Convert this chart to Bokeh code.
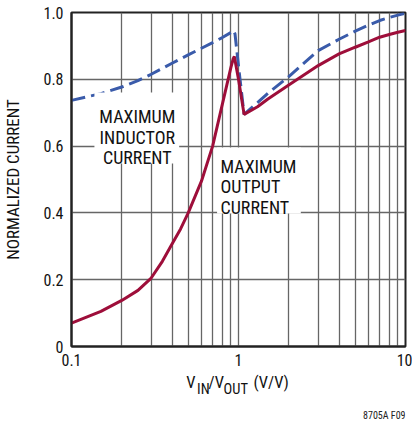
from bokeh.plotting import figure
from bokeh.layouts import column
from bokeh.models import FixedTicker, Label, Range1d, BoxAnnotation
from bokeh.core.properties import value
from bokeh.embed import file_html
from bokeh.resources import INLINE

# ---- data ----
inductor_x = [0.1, 0.15, 0.2, 0.25, 0.3, 0.4, 0.5, 0.6, 0.7, 0.8, 0.9, 0.915, 0.935, 0.953,
              1.0, 1.08, 1.3, 1.5, 2, 3, 4, 5, 6, 7, 8, 9, 10]
inductor_y = [0.737, 0.757, 0.777, 0.796, 0.815, 0.848, 0.873, 0.893, 0.910, 0.925, 0.940,
              0.946, 0.945, 0.936, 0.84, 0.695, 0.730, 0.758, 0.808, 0.886, 0.920, 0.944,
              0.962, 0.976, 0.985, 0.992, 0.998]

output_x = [0.1, 0.15, 0.2, 0.25, 0.3, 0.35, 0.4, 0.45, 0.5, 0.6, 0.7, 0.8, 0.9, 0.93, 0.944,
            0.955, 1.0, 1.08, 1.3, 1.5, 2, 3, 4, 5, 6, 7, 8, 9, 10]
output_y = [0.070, 0.105, 0.138, 0.168, 0.205, 0.255, 0.307, 0.352, 0.400, 0.495, 0.600,
            0.725, 0.835, 0.862, 0.868, 0.855, 0.80, 0.695, 0.718, 0.741, 0.783, 0.841,
            0.876, 0.896, 0.912, 0.926, 0.934, 0.941, 0.946]

x_major = [0.1, 1, 10]
x_minor = [0.2, 0.3, 0.4, 0.5, 0.6, 0.7, 0.8, 0.9, 2, 3, 4, 5, 6, 7, 8, 9]
x_labels = {0.1: "0.1", 1: "1", 10: "10"}
y_ticks = [0, 0.2, 0.4, 0.6, 0.8, 1.0]
y_labels = {0: "0", 0.2: "0.2", 0.4: "0.4", 0.6: "0.6", 0.8: "0.8", 1.0: "1.0"}

inductor_label = ["MAXIMUM", "INDUCTOR", "CURRENT"]
output_label = ["MAXIMUM", "OUTPUT", "CURRENT"]
x_title_parts = ["V", "IN", "/V", "OUT", "(V/V)"]
footnote = "8705A F09"

FONT = "Liberation Sans Narrow, Roboto Condensed, Liberation Sans, sans-serif"
GRID = "#666666"
RED = "#9E0E3A"
BLUE = "#3A5BAA"
INK = "#111111"
W = 412
H_TOTAL = 421
H_MAIN = 372      # frame 12..346 plus tick labels
H_FOOT = H_TOTAL - H_MAIN   # x-axis title and figure code below
FL, FR = 70, 405  # frame left/right in page pixels

p = figure(width=W, height=H_MAIN, x_axis_type="log",
           x_range=Range1d(0.1, 10), y_range=Range1d(0, 1),
           output_backend="svg", toolbar_location=None,
           min_border_left=FL, min_border_right=W - FR, min_border_top=12,
           min_border_bottom=H_MAIN - 346)
p.background_fill_color = "white"
p.border_fill_color = "white"
p.outline_line_color = "#222222"
p.outline_line_width = 2

p.xaxis.ticker = FixedTicker(ticks=x_major, minor_ticks=x_minor)
p.yaxis.ticker = FixedTicker(ticks=y_ticks)
p.xaxis.major_label_overrides = x_labels
p.yaxis.major_label_overrides = y_labels
for ax in (p.xaxis, p.yaxis):
    ax.axis_line_color = "#222222"
    ax.axis_line_width = 2
    ax.major_tick_line_color = None
    ax.minor_tick_line_color = None
    ax.major_tick_out = 0
    ax.major_tick_in = 0
    ax.minor_tick_out = 0
    ax.minor_tick_in = 0
    ax.major_label_text_font = FONT
    ax.major_label_text_font_size = "16px"
    ax.major_label_text_color = INK
p.xaxis.major_label_standoff = 7
p.yaxis.major_label_standoff = 8

p.yaxis.axis_label = "NORMALIZED CURRENT"
p.yaxis.axis_label_text_font = FONT
p.yaxis.axis_label_text_font_size = "17px"
p.yaxis.axis_label_text_font_style = "normal"
p.yaxis.axis_label_text_color = INK
p.yaxis.axis_label_standoff = 17

p.xgrid.grid_line_color = GRID
p.xgrid.grid_line_width = 1.3
p.xgrid.minor_grid_line_color = GRID
p.xgrid.minor_grid_line_width = 1.3
p.ygrid.grid_line_color = GRID
p.ygrid.grid_line_width = 1.3

p.line(inductor_x, inductor_y, line_color=BLUE, line_width=3, line_dash="14 6")
p.line(output_x, output_y, line_color=RED, line_width=3)


def px_x(px):
    # page pixel -> data x on the log axis (frame 70..405 spans 0.1..10)
    return 10 ** (-1 + (px - FL) / ((FR - FL) / 2))


def px_y(py):
    return (346 - py) / 334


# white boxes behind the curve labels
p.add_layout(BoxAnnotation(left=px_x(93), right=px_x(178), top=px_y(92), bottom=px_y(163),
                           fill_color="white", fill_alpha=1, line_color=None))
p.add_layout(BoxAnnotation(left=px_x(216), right=px_x(300), top=px_y(147), bottom=px_y(213),
                           fill_color="white", fill_alpha=1, line_color=None))

for i, t in enumerate(inductor_label):
    p.add_layout(Label(x=px_x(136), y=px_y(116 + 20.5 * i), text=t,
                       text_align="center", text_baseline="alphabetic",
                       text_font=FONT, text_font_size="18px", text_color=INK))
for i, t in enumerate(output_label):
    p.add_layout(Label(x=px_x(219.5), y=px_y(165.7 + 20.5 * i), text=t,
                       text_align="left", text_baseline="alphabetic",
                       text_font=FONT, text_font_size="18px", text_color=INK))

# ---- strip below: x-axis title with subscripts, and the figure code ----
# its frame is aligned with the main frame, so its x range is in page pixels
q = figure(width=W, height=H_FOOT, x_range=Range1d(FL, FR), y_range=Range1d(H_FOOT, 0),
           output_backend="svg", toolbar_location=None,
           x_axis_location=None, y_axis_location=None,
           min_border_left=FL, min_border_right=W - FR,
           min_border_top=0, min_border_bottom=0)
q.outline_line_color = None
q.background_fill_color = "white"
q.border_fill_color = "white"
q.xgrid.visible = False
q.ygrid.visible = False

y0 = H_MAIN + 4
main_idx = [0, 2, 4]
sub_idx = [1, 3]
lefts = [185, 196, 207.5, 222.5, 252.5]
q.text(x=[lefts[i] for i in main_idx], y=[386 - y0] * 3,
       text=[x_title_parts[i] for i in main_idx],
       text_font=value(FONT), text_font_size="16.5px", text_color=INK,
       text_align="left", text_baseline="alphabetic")
q.text(x=[lefts[i] for i in sub_idx], y=[392.5 - y0] * 2,
       text=[x_title_parts[i] for i in sub_idx],
       text_font=value(FONT), text_font_size="14.5px", text_color=INK,
       text_align="left", text_baseline="alphabetic")
q.text(x=[FR], y=[419 - y0], text=[footnote],
       text_font=value(FONT), text_font_size="10px", text_color="#222222",
       text_align="right", text_baseline="alphabetic")

layout = column(p, q, spacing=0)
open("out.html", "w").write(file_html(layout, INLINE))
